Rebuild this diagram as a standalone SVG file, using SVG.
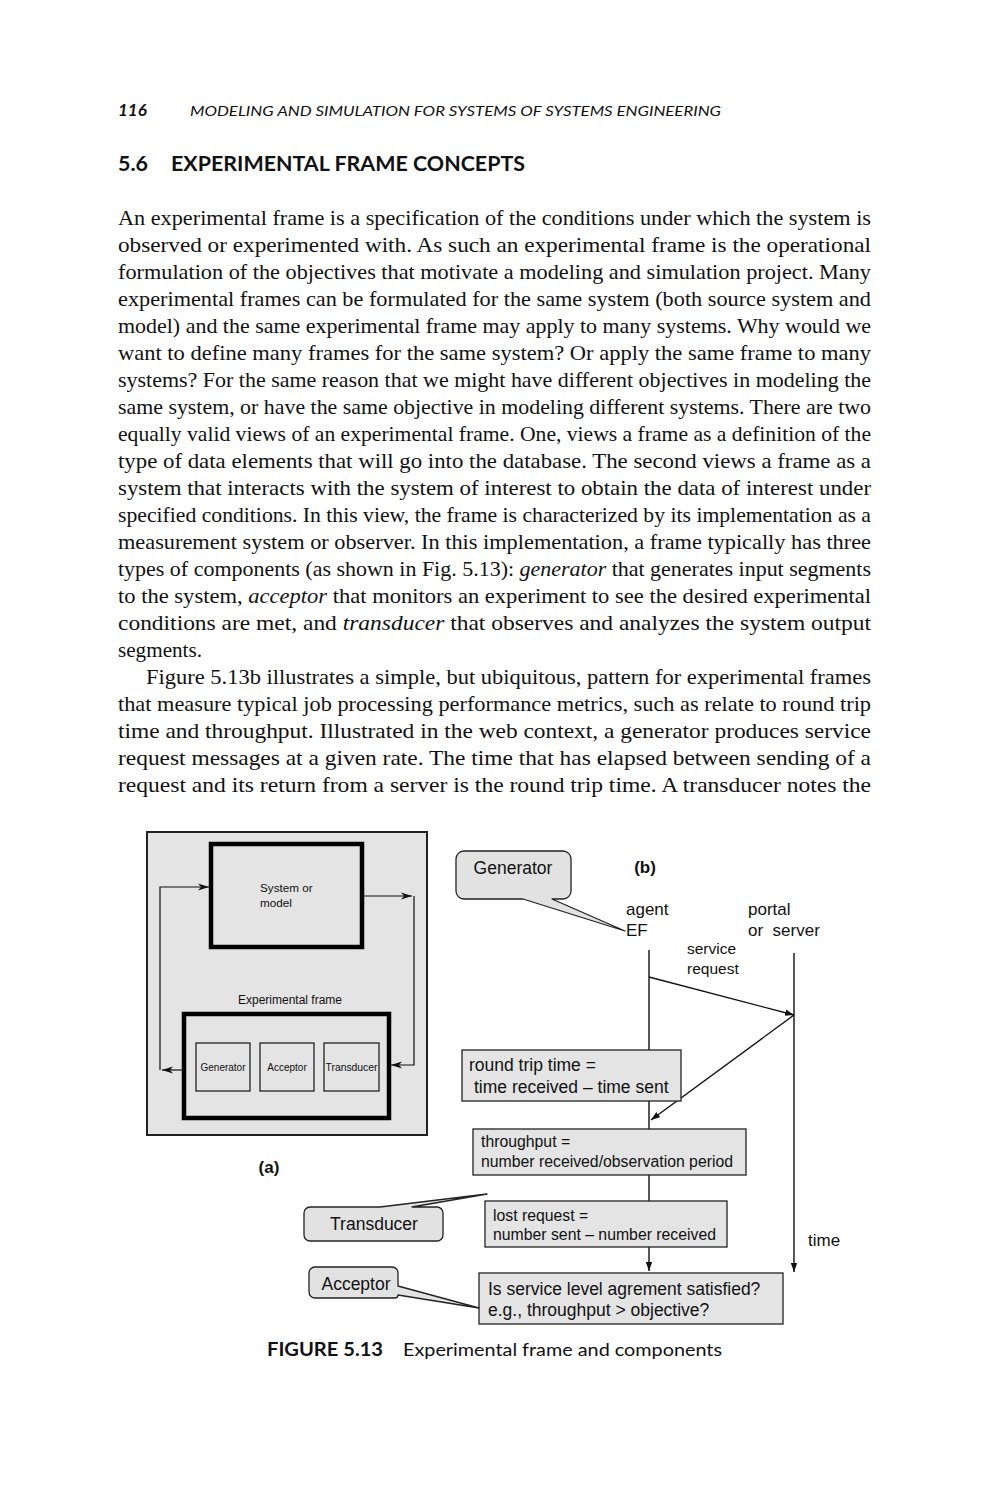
<svg xmlns="http://www.w3.org/2000/svg" width="993" height="1500" viewBox="0 0 993 1500">
<defs>
<style>
.body{font-family:"Liberation Serif","Times New Roman",serif;font-size:22px;fill:#111}
.it{font-style:italic}
.hd{font-family:Lato,"Open Sans","Liberation Sans",sans-serif;fill:#111}
.sans{font-family:"Liberation Sans",Arial,sans-serif;fill:#111}
.ln{fill:none;stroke:#111;stroke-width:1.4}
.thin{fill:none;stroke:#111;stroke-width:1.2}
.box{fill:#e4e4e4;stroke:#222;stroke-width:1.3}
.callout{fill:#e2e2e2;stroke:#222;stroke-width:1.3;stroke-linejoin:round}
.thick{fill:#e4e4e4;stroke:#000;stroke-width:4.5}
</style>
<marker id="ah" markerWidth="10" markerHeight="8" refX="9" refY="4" orient="auto" markerUnits="userSpaceOnUse">
<path d="M0,0.8 L9,4 L0,7.2 Z" fill="#111"/>
</marker>
<marker id="ab" markerWidth="12" markerHeight="8" refX="11" refY="4" orient="auto" markerUnits="userSpaceOnUse">
<path d="M0,0.5 L11,4 L0,7.5 L3,4 Z" fill="#111"/>
</marker>
</defs>
<rect width="993" height="1500" fill="#fff"/>

<g id="page-text">
<text class="hd" x="118" y="116" font-size="17" font-weight="bold" font-style="italic">116</text>
<text class="hd" x="190" y="116" font-size="14" font-style="italic" textLength="531" lengthAdjust="spacingAndGlyphs">MODELING AND SIMULATION FOR SYSTEMS OF SYSTEMS ENGINEERING</text>
<text class="hd" x="118" y="171" font-size="20" font-weight="bold" textLength="30" lengthAdjust="spacingAndGlyphs">5.6</text>
<text class="hd" x="171" y="171" font-size="20" font-weight="bold" textLength="354" lengthAdjust="spacingAndGlyphs">EXPERIMENTAL FRAME CONCEPTS</text>

<text class="body" x="118" y="225" textLength="753" lengthAdjust="spacingAndGlyphs">An experimental frame is a specification of the conditions under which the system is</text>
<text class="body" x="118" y="252" textLength="753" lengthAdjust="spacingAndGlyphs">observed or experimented with. As such an experimental frame is the operational</text>
<text class="body" x="118" y="279" textLength="753" lengthAdjust="spacingAndGlyphs">formulation of the objectives that motivate a modeling and simulation project. Many</text>
<text class="body" x="118" y="306" textLength="753" lengthAdjust="spacingAndGlyphs">experimental frames can be formulated for the same system (both source system and</text>
<text class="body" x="118" y="333" textLength="753" lengthAdjust="spacingAndGlyphs">model) and the same experimental frame may apply to many systems. Why would we</text>
<text class="body" x="118" y="360" textLength="753" lengthAdjust="spacingAndGlyphs">want to define many frames for the same system? Or apply the same frame to many</text>
<text class="body" x="118" y="387" textLength="753" lengthAdjust="spacingAndGlyphs">systems? For the same reason that we might have different objectives in modeling the</text>
<text class="body" x="118" y="414" textLength="753" lengthAdjust="spacingAndGlyphs">same system, or have the same objective in modeling different systems. There are two</text>
<text class="body" x="118" y="441" textLength="753" lengthAdjust="spacingAndGlyphs">equally valid views of an experimental frame. One, views a frame as a definition of the</text>
<text class="body" x="118" y="468" textLength="753" lengthAdjust="spacingAndGlyphs">type of data elements that will go into the database. The second views a frame as a</text>
<text class="body" x="118" y="495" textLength="753" lengthAdjust="spacingAndGlyphs">system that interacts with the system of interest to obtain the data of interest under</text>
<text class="body" x="118" y="522" textLength="753" lengthAdjust="spacingAndGlyphs">specified conditions. In this view, the frame is characterized by its implementation as a</text>
<text class="body" x="118" y="549" textLength="753" lengthAdjust="spacingAndGlyphs">measurement system or observer. In this implementation, a frame typically has three</text>
<text class="body" x="118" y="576" textLength="753" lengthAdjust="spacingAndGlyphs">types of components (as shown in Fig. 5.13): <tspan class="it">generator</tspan> that generates input segments</text>
<text class="body" x="118" y="603" textLength="753" lengthAdjust="spacingAndGlyphs">to the system, <tspan class="it">acceptor</tspan> that monitors an experiment to see the desired experimental</text>
<text class="body" x="118" y="630" textLength="753" lengthAdjust="spacingAndGlyphs">conditions are met, and <tspan class="it">transducer</tspan> that observes and analyzes the system output</text>
<text class="body" x="118" y="657" textLength="84" lengthAdjust="spacingAndGlyphs">segments.</text>
<text class="body" x="146" y="684" textLength="725" lengthAdjust="spacingAndGlyphs">Figure 5.13b illustrates a simple, but ubiquitous, pattern for experimental frames</text>
<text class="body" x="118" y="711" textLength="753" lengthAdjust="spacingAndGlyphs">that measure typical job processing performance metrics, such as relate to round trip</text>
<text class="body" x="118" y="738" textLength="753" lengthAdjust="spacingAndGlyphs">time and throughput. Illustrated in the web context, a generator produces service</text>
<text class="body" x="118" y="765" textLength="753" lengthAdjust="spacingAndGlyphs">request messages at a given rate. The time that has elapsed between sending of a</text>
<text class="body" x="118" y="792" textLength="753" lengthAdjust="spacingAndGlyphs">request and its return from a server is the round trip time. A transducer notes the</text>
</g>

<g id="panel-a">
<rect x="147" y="832" width="280" height="303" fill="#e4e4e4" stroke="#222" stroke-width="2"/>
<text class="sans" x="269" y="1173" font-size="17" font-weight="bold" text-anchor="middle">(a)</text>
</g>

<g id="connectors">
<path class="thin" d="M184,1070 H162" marker-end="url(#ab)"/>
<path class="thin" d="M160,1070 V887 H209" marker-end="url(#ab)"/>
<path class="thin" d="M362,896 H412" marker-end="url(#ab)"/>
<path class="thin" d="M414,896 V1065 H391" marker-end="url(#ab)"/>
<path class="ln" d="M649,950 V1129"/>
<path class="ln" d="M649,1175 V1201"/>
<path class="ln" d="M649,1247 V1271" marker-end="url(#ah)"/>
<path class="ln" d="M794,953 V1272" marker-end="url(#ah)"/>
<path class="ln" d="M649,977 L794,1015" marker-end="url(#ah)"/>
<path class="ln" d="M794,1015 L651,1120" marker-end="url(#ah)"/>
</g>

<g id="system-or-model">
<rect class="thick" x="211" y="844" width="151" height="103"/>
<text class="sans" x="260" y="892" font-size="11.7">System or</text>
<text class="sans" x="260" y="907" font-size="11.7">model</text>
</g>

<g id="experimental-frame">
<text class="sans" x="290" y="1004" font-size="12" text-anchor="middle">Experimental frame</text>
<rect class="thick" x="184" y="1014" width="205" height="104"/>
</g>
<g id="ef-generator">
<rect x="196" y="1043" width="54" height="48" fill="#e4e4e4" stroke="#222" stroke-width="1.3"/>
<text class="sans" x="223" y="1071" font-size="10" text-anchor="middle">Generator</text>
</g>
<g id="ef-acceptor">
<rect x="260" y="1043" width="54" height="48" fill="#e4e4e4" stroke="#222" stroke-width="1.3"/>
<text class="sans" x="287" y="1071" font-size="10" text-anchor="middle">Acceptor</text>
</g>
<g id="ef-transducer">
<rect x="324" y="1043" width="55" height="48" fill="#e4e4e4" stroke="#222" stroke-width="1.3"/>
<text class="sans" x="351.5" y="1071" font-size="10" text-anchor="middle" textLength="52" lengthAdjust="spacingAndGlyphs">Transducer</text>
</g>

<g id="generator-callout">
<path class="callout" d="M464,851 H563 A8,8 0 0 1 571,859 V891 A8,8 0 0 1 563,899 H552 L625,931 L523,899 H464 A8,8 0 0 1 456,891 V859 A8,8 0 0 1 464,851 Z"/>
<text class="sans" x="513" y="874" font-size="17.5" text-anchor="middle">Generator</text>
</g>
<g id="labels-b">
<text class="sans" x="645" y="873" font-size="17" font-weight="bold" text-anchor="middle">(b)</text>
<text class="sans" x="626" y="915" font-size="17">agent</text>
<text class="sans" x="626" y="936" font-size="17">EF</text>
<text class="sans" x="748" y="915" font-size="17">portal</text>
<text class="sans" x="748" y="936" font-size="17" xml:space="preserve">or  server</text>
<text class="sans" x="687" y="954" font-size="15.5">service</text>
<text class="sans" x="687" y="974" font-size="15.5">request</text>
<text class="sans" x="808" y="1246" font-size="17">time</text>
</g>
<g id="round-trip">
<rect class="box" x="462" y="1050" width="219" height="51"/>
<text class="sans" x="469" y="1071" font-size="17.5">round trip time =</text>
<text class="sans" x="474" y="1093" font-size="17.5">time received – time sent</text>
</g>
<g id="throughput">
<rect class="box" x="473" y="1129" width="273" height="46"/>
<text class="sans" x="481" y="1147" font-size="15.8">throughput =</text>
<text class="sans" x="481" y="1167" font-size="15.8">number received/observation period</text>
</g>
<g id="lost-request">
<rect class="box" x="485" y="1201" width="242" height="46"/>
<text class="sans" x="493" y="1221" font-size="15.8">lost request =</text>
<text class="sans" x="493" y="1240" font-size="15.8">number sent – number received</text>
</g>
<g id="sla">
<rect class="box" x="479" y="1273" width="304" height="51"/>
<text class="sans" x="488" y="1295" font-size="17.5">Is service level agrement satisfied?</text>
<text class="sans" x="488" y="1316" font-size="17.5">e.g., throughput &gt; objective?</text>
</g>
<g id="transducer-callout">
<path class="callout" d="M310,1207 H380 L487,1194 L412,1207 H437 A6,6 0 0 1 443,1213 V1235 A6,6 0 0 1 437,1241 H310 A6,6 0 0 1 304,1235 V1213 A6,6 0 0 1 310,1207 Z"/>
<text class="sans" x="374" y="1230" font-size="17.5" text-anchor="middle">Transducer</text>
</g>
<g id="acceptor-callout">
<path class="callout" d="M315,1267 H392 A6,6 0 0 1 398,1273 V1286 L479,1308 L398,1295 A3,3 0 0 1 395,1298 H315 A6,6 0 0 1 309,1292 V1273 A6,6 0 0 1 315,1267 Z"/>
<text class="sans" x="356" y="1290" font-size="17.5" text-anchor="middle">Acceptor</text>
</g>

<g id="caption">
<text class="hd" x="267" y="1356" font-size="18" font-weight="bold" textLength="116" lengthAdjust="spacingAndGlyphs">FIGURE 5.13</text>
<text class="hd" x="403" y="1356" font-size="18" textLength="319" lengthAdjust="spacingAndGlyphs">Experimental frame and components</text>
</g>
</svg>
